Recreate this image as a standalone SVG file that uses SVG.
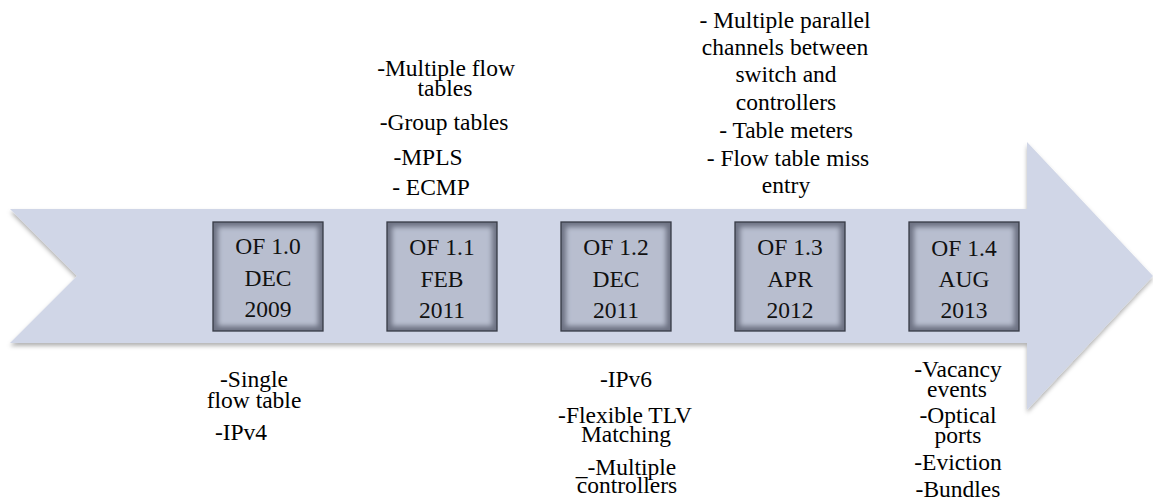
<svg xmlns="http://www.w3.org/2000/svg" width="1153" height="502" viewBox="0 0 1153 502">
<style>
text{font-family:'Liberation Serif','Times New Roman',serif;font-size:23.5px;fill:#000;text-anchor:middle}
.bt{fill:#111}
.outer{fill:#6e7384}
.inner{fill:#b8becf;filter:url(#soft)}
.edge{fill:none;stroke:#373b46;stroke-width:1.3}
</style>
<defs>
<filter id="shadow" x="-5%" y="-10%" width="110%" height="125%">
<feDropShadow dx="0" dy="3" stdDeviation="2" flood-color="#000" flood-opacity="0.3"/>
</filter>
<filter id="soft" x="-10%" y="-10%" width="120%" height="120%">
<feGaussianBlur stdDeviation="2.6"/>
</filter>
</defs>
<g id="arrow">
<polygon points="10,209 1027,209 1027,142 1153,276 1027,410 1027,343 10,343 77,276" fill="#d0d6e7" filter="url(#shadow)"/>
</g>
<g id="connectors"></g>
<g id="of10">
<rect class="outer" x="213" y="222" width="110" height="109"/>
<rect class="inner" x="218" y="227" width="100" height="99"/>
<rect class="edge" x="213" y="222" width="110" height="109"/>
<text class="bt" x="268" y="254">OF 1.0</text>
<text class="bt" x="268" y="286">DEC</text>
<text class="bt" x="268" y="317">2009</text>
</g>
<g id="of11">
<rect class="outer" x="387" y="222" width="110" height="109"/>
<rect class="inner" x="392" y="227" width="100" height="99"/>
<rect class="edge" x="387" y="222" width="110" height="109"/>
<text class="bt" x="442" y="255">OF 1.1</text>
<text class="bt" x="442" y="287">FEB</text>
<text class="bt" x="442" y="318">2011</text>
</g>
<g id="of12">
<rect class="outer" x="561" y="222" width="110" height="109"/>
<rect class="inner" x="566" y="227" width="100" height="99"/>
<rect class="edge" x="561" y="222" width="110" height="109"/>
<text class="bt" x="616" y="255">OF 1.2</text>
<text class="bt" x="616" y="287">DEC</text>
<text class="bt" x="616" y="318">2011</text>
</g>
<g id="of13">
<rect class="outer" x="735" y="222" width="110" height="109"/>
<rect class="inner" x="740" y="227" width="100" height="99"/>
<rect class="edge" x="735" y="222" width="110" height="109"/>
<text class="bt" x="790" y="255">OF 1.3</text>
<text class="bt" x="790" y="287">APR</text>
<text class="bt" x="790" y="318">2012</text>
</g>
<g id="of14">
<rect class="outer" x="909" y="222" width="110" height="109"/>
<rect class="inner" x="914" y="227" width="100" height="99"/>
<rect class="edge" x="909" y="222" width="110" height="109"/>
<text class="bt" x="964" y="256">OF 1.4</text>
<text class="bt" x="964" y="287">AUG</text>
<text class="bt" x="964" y="318">2013</text>
</g>
<g id="notes-of11">
<text><tspan x="446" y="76">-Multiple flow</tspan><tspan x="445" y="96">tables</tspan></text>
<text x="444" y="130">-Group tables</text>
<text x="428" y="165">-MPLS</text>
<text x="431" y="195">- ECMP</text>
</g>
<g id="notes-of13">
<text><tspan x="785" y="28">- Multiple parallel</tspan><tspan x="785" y="55">channels between</tspan><tspan x="786" y="82">switch and</tspan><tspan x="786" y="110">controllers</tspan></text>
<text x="786" y="138">- Table meters</text>
<text><tspan x="788" y="166">- Flow table miss</tspan><tspan x="786" y="193">entry</tspan></text>
</g>
<g id="notes-of10">
<text><tspan x="254" y="387">-Single</tspan><tspan x="254" y="408">flow table</tspan></text>
<text x="241" y="440">-IPv4</text>
</g>
<g id="notes-of12">
<text x="626" y="387">-IPv6</text>
<text><tspan x="625" y="423">-Flexible TLV</tspan><tspan x="626" y="442">Matching</tspan></text>
<text><tspan x="626" y="475">_-Multiple</tspan><tspan x="627" y="493">controllers</tspan></text>
</g>
<g id="notes-of14">
<text><tspan x="958" y="377">-Vacancy</tspan><tspan x="957" y="397">events</tspan></text>
<text><tspan x="958" y="423">-Optical</tspan><tspan x="958" y="443">ports</tspan></text>
<text x="958" y="470">-Eviction</text>
<text x="958" y="497">-Bundles</text>
</g>
</svg>
